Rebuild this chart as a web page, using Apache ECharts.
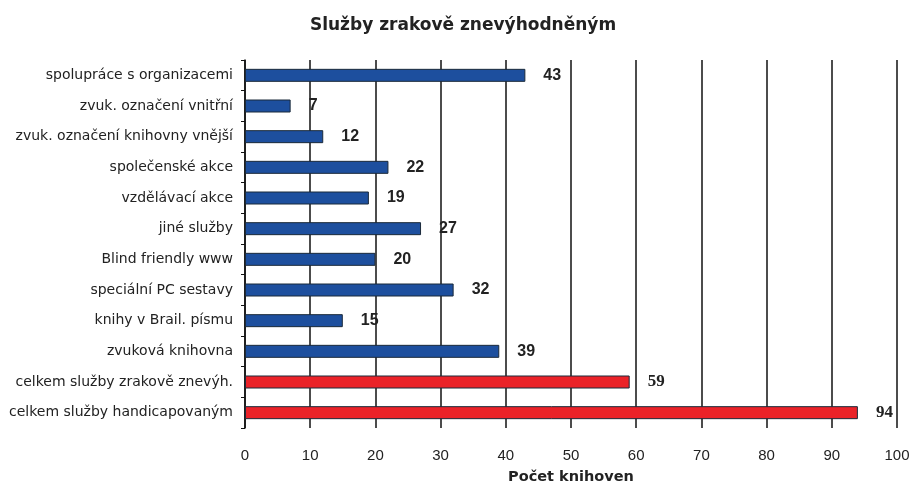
<!DOCTYPE html>
<html>
<head>
<meta charset="utf-8">
<script src="https://cdn.jsdelivr.net/npm/echarts@6/dist/echarts.min.js"></script>
<style>
html,body{margin:0;padding:0;background:#fff;}
#chart{width:911px;height:486px;}
</style>
</head>
<body>
<div id="chart"></div>
<script>
// data
var categories = [
  'spolupráce s organizacemi',
  'zvuk. označení vnitřní',
  'zvuk. označení knihovny vnější',
  'společenské akce',
  'vzdělávací akce',
  'jiné služby',
  'Blind friendly www',
  'speciální PC sestavy',
  'knihy v Brail. písmu',
  'zvuková knihovna',
  'celkem služby zrakově znevýh.',
  'celkem služby handicapovaným'
];
var values = [43, 7, 12, 22, 19, 27, 20, 32, 15, 39, 59, 94];
var isTotal = [false, false, false, false, false, false, false, false, false, false, true, true];
var xTicks = [0, 10, 20, 30, 40, 50, 60, 70, 80, 90, 100];

var chart = echarts.init(document.getElementById('chart'));

var barData = values.map(function (v, i) {
  return {
    value: v,
    itemStyle: { color: isTotal[i] ? '#ea2228' : '#1d4f9e' },
    label: isTotal[i] ? { fontFamily: 'Liberation Serif', fontSize: 17 } : {}
  };
});

var option = {
  animation: false,
  title: {
    text: 'Služby zrakově znevýhodněným',
    left: 458,
    textAlign: 'center',
    top: 12,
    textStyle: { fontFamily: 'DejaVu Sans', fontSize: 17, fontWeight: 'bold', color: '#222' }
  },
  grid: { left: 245, right: 14, top: 60, bottom: 58, containLabel: false, outerBoundsMode: 'none' },
  xAxis: {
    type: 'value',
    min: xTicks[0],
    max: xTicks[xTicks.length - 1],
    interval: 10,
    name: 'Počet knihoven',
    nameLocation: 'middle',
    nameGap: 42,
    nameTextStyle: { fontFamily: 'DejaVu Sans', fontSize: 14.5, fontWeight: 'bold', color: '#222' },
    axisLine: { show: false },
    axisTick: { show: false },
    axisLabel: { fontFamily: 'Liberation Sans', fontSize: 15, color: '#222', margin: 20 },
    splitLine: { show: true, lineStyle: { color: '#111', width: 1.5 } }
  },
  yAxis: {
    type: 'category',
    data: categories,
    inverse: true,
    axisLine: { show: true, lineStyle: { color: '#111', width: 1.5 } },
    axisTick: { show: true, inside: false, length: 4, lineStyle: { color: '#111' } },
    axisLabel: { fontFamily: 'DejaVu Sans', fontSize: 14, color: '#222', margin: 12 }
  },
  series: [{
    type: 'bar',
    data: barData,
    barWidth: 13,
    itemStyle: { borderColor: '#1b2a3a', borderWidth: 1 },
    label: {
      show: true,
      position: 'right',
      distance: 18,
      fontFamily: 'Liberation Sans',
      fontSize: 16,
      fontWeight: 'bold',
      color: '#222'
    }
  }]
};

chart.setOption(option);
</script>
</body>
</html>
